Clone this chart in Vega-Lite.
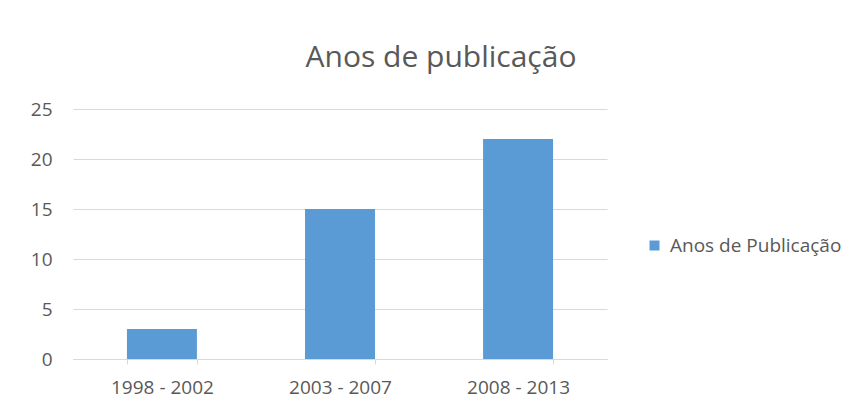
{
  "$schema": "https://vega.github.io/schema/vega-lite/v6.json",
  "width": 534,
  "height": 250,
  "autosize": {"type": "none"},
  "padding": {"left": 73, "top": 109, "right": 256, "bottom": 58},
  "background": "white",
  "title": {
    "text": "Anos de publicação",
    "font": "Open Sans",
    "fontSize": 30,
    "fontWeight": "normal",
    "color": "#595959",
    "anchor": "middle",
    "dx": 101,
    "offset": 27
  },
  "data": {
    "values": [
      {"periodo": "1998 - 2002", "valor": 3, "serie": "Anos de Publicação"},
      {"periodo": "2003 - 2007", "valor": 15, "serie": "Anos de Publicação"},
      {"periodo": "2008 - 2013", "valor": 22, "serie": "Anos de Publicação"}
    ]
  },
  "mark": {"type": "bar"},
  "encoding": {
    "x": {
      "field": "periodo",
      "type": "nominal",
      "sort": null,
      "scale": {"paddingInner": 0.607, "paddingOuter": 0.303},
      "axis": {
        "title": null,
        "labelAngle": 0,
        "labelFont": "Open Sans",
        "labelFontSize": 19,
        "labelColor": "#595959",
        "labelPadding": 14,
        "domainColor": "#d9d9d9",
        "tickColor": "#d9d9d9",
        "tickBand": "extent",
        "tickSize": 5
      }
    },
    "y": {
      "field": "valor",
      "type": "quantitative",
      "scale": {"domain": [0, 25]},
      "axis": {
        "title": null,
        "values": [0, 5, 10, 15, 20, 25],
        "labelFont": "Open Sans",
        "labelFontSize": 19,
        "labelColor": "#595959",
        "labelPadding": 21,
        "ticks": false,
        "domain": false,
        "gridColor": "#d9d9d9"
      }
    },
    "color": {
      "field": "serie",
      "type": "nominal",
      "scale": {"range": ["#5b9bd5"]},
      "legend": {
        "title": null,
        "orient": "none",
        "legendX": 572,
        "legendY": 127,
        "symbolType": "square",
        "symbolSize": 100,
        "labelFont": "Open Sans",
        "labelFontSize": 19,
        "labelColor": "#595959",
        "labelOffset": 6,
        "labelLimit": 300
      }
    }
  },
  "config": {"view": {"stroke": null}}
}
